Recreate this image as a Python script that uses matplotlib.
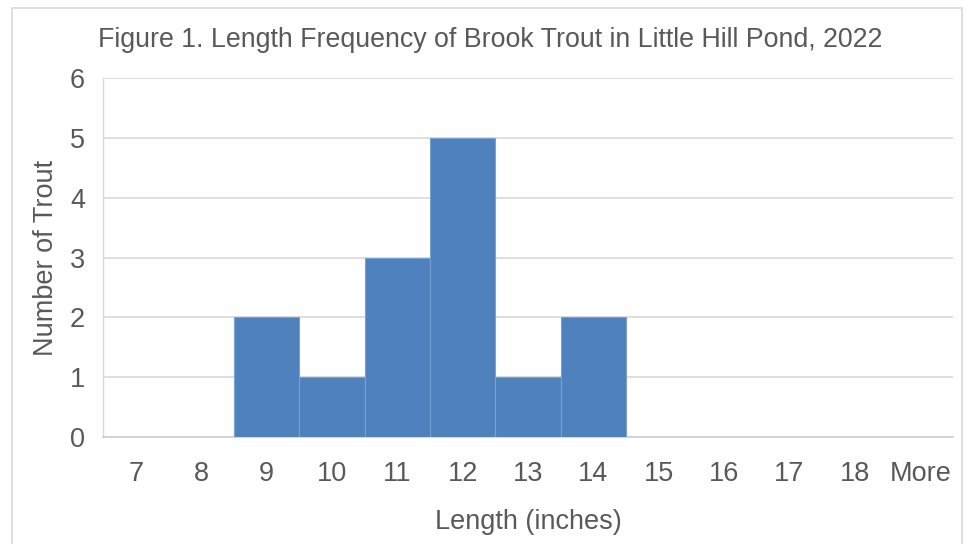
import matplotlib.pyplot as plt
from matplotlib.patches import Rectangle

plt.rcParams['font.family'] = ['Liberation Sans', 'DejaVu Sans']

bins = ['7', '8', '9', '10', '11', '12', '13', '14', '15', '16', '17', '18', 'More']
counts = [0, 0, 2, 1, 3, 5, 1, 2, 0, 0, 0, 0, 0]

txt = '#595959'

fig = plt.figure(figsize=(9.72, 5.44), dpi=100)
ax = fig.add_axes([103/972, 1 - 437/544, 850/972, (437 - 78)/544])

x = list(range(len(bins)))
ax.bar(x, counts, width=1.0, color='#4F81BD', edgecolor='#7A9FD1', linewidth=0.8, zorder=3)

ax.set_xlim(-0.5, len(bins) - 0.5)
ax.set_ylim(0, 6)
ax.set_xticks(x)
ax.set_xticklabels(bins)
ax.set_yticks(range(7))
ax.grid(axis='y', color='#D9D9D9', linewidth=1.2, zorder=0)
ax.tick_params(length=0, labelsize=19.5, colors=txt)
ax.tick_params(axis='x', pad=17)
ax.tick_params(axis='y', pad=13)
for s in ['top', 'right']:
    ax.spines[s].set_visible(False)
ax.spines['left'].set_color('#D9D9D9')
ax.spines['bottom'].set_color('#D0D0D0')
ax.spines['left'].set_linewidth(1.0)
ax.spines['bottom'].set_linewidth(1.2)

ax.set_xlabel('Length (inches)', fontsize=19.5, color=txt, labelpad=16)
ax.set_ylabel('Number of Trout', fontsize=19.5, color=txt, labelpad=8)

fig.text(98/972, 1 - 40/544, 'Figure 1. Length Frequency of Brook Trout in Little Hill Pond, 2022',
         fontsize=19.3, color=txt, ha='left', va='center')

fig.patches.append(Rectangle((12/972, -0.05), (962 - 12)/972, 1.05 - 8/544,
                             transform=fig.transFigure, fill=False,
                             edgecolor='#D9D9D9', linewidth=1.2))

fig.savefig('out.png', dpi=100, facecolor='white')
